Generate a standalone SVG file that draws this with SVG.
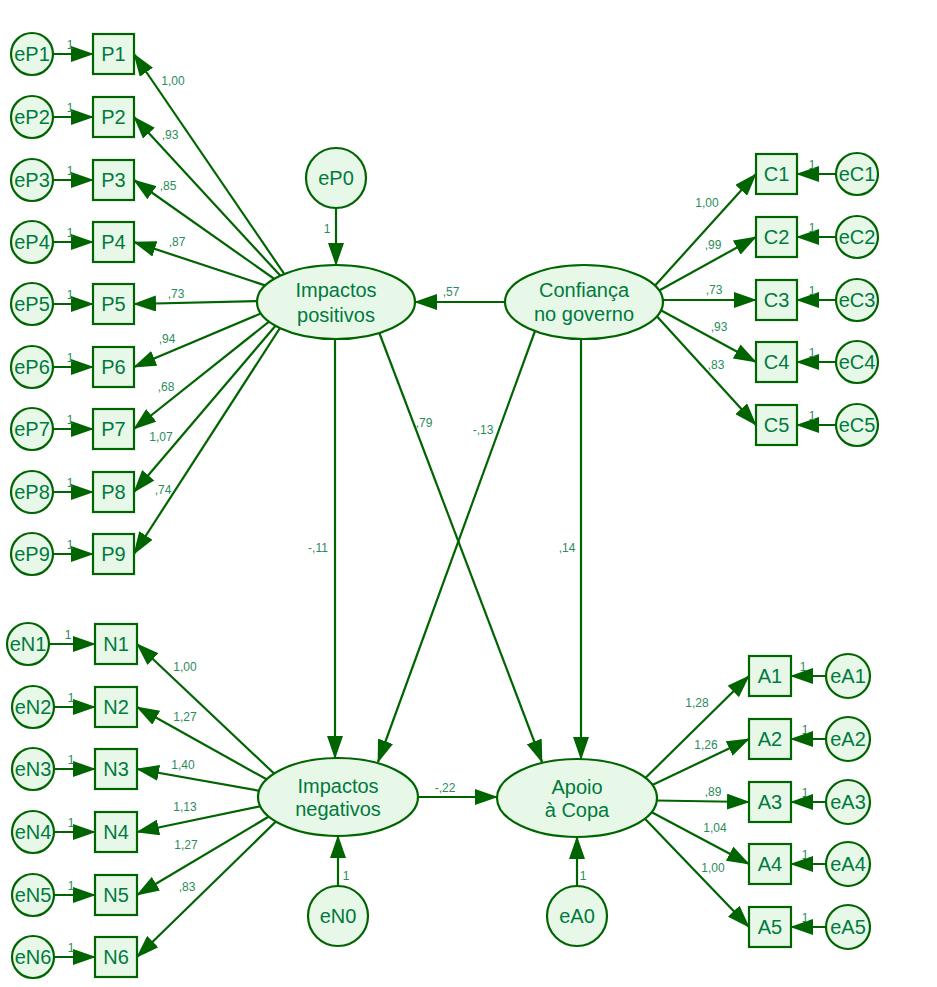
<svg xmlns="http://www.w3.org/2000/svg" width="937" height="987" viewBox="0 0 937 987">
<style>
.c{stroke:#006400;stroke-width:2.2;fill:none;marker-end:url(#ah)}
.n{fill:#e8f8e8;stroke:#006400;stroke-width:2.2}
.t{font-family:"Liberation Sans",Arial,sans-serif;font-size:20px;fill:#007a3d;text-anchor:middle}
.l{font-family:"Liberation Sans",Arial,sans-serif;font-size:12px;fill:#2a8c5a;text-anchor:middle}
</style>
<defs>
<marker id="ah" markerUnits="userSpaceOnUse" markerWidth="23" markerHeight="16" refX="22" refY="8" orient="auto">
<path d="M0,0 L23,8 L0,16 z" fill="#006400"/>
</marker>
</defs>
<rect width="937" height="987" fill="#ffffff"/>
<g id="connectors">
<line class="c" x1="53" y1="54" x2="93" y2="54"/>
<line class="c" x1="53" y1="117" x2="93" y2="117"/>
<line class="c" x1="53" y1="180" x2="93" y2="180"/>
<line class="c" x1="53" y1="242" x2="93" y2="242"/>
<line class="c" x1="53" y1="304" x2="93" y2="304"/>
<line class="c" x1="53" y1="367" x2="93" y2="367"/>
<line class="c" x1="53" y1="429" x2="93" y2="429"/>
<line class="c" x1="53" y1="492" x2="93" y2="492"/>
<line class="c" x1="53" y1="554" x2="93" y2="554"/>
<line class="c" x1="49" y1="644" x2="95" y2="644"/>
<line class="c" x1="54" y1="707" x2="95" y2="707"/>
<line class="c" x1="54" y1="769" x2="95" y2="769"/>
<line class="c" x1="54" y1="832" x2="95" y2="832"/>
<line class="c" x1="54" y1="895" x2="95" y2="895"/>
<line class="c" x1="54" y1="957" x2="95" y2="957"/>
<line class="c" x1="836" y1="174" x2="797" y2="174"/>
<line class="c" x1="836" y1="237" x2="797" y2="237"/>
<line class="c" x1="836" y1="300" x2="797" y2="300"/>
<line class="c" x1="836" y1="362" x2="797" y2="362"/>
<line class="c" x1="836" y1="425" x2="797" y2="425"/>
<line class="c" x1="826" y1="676" x2="791" y2="676"/>
<line class="c" x1="826" y1="739" x2="791" y2="739"/>
<line class="c" x1="826" y1="802" x2="791" y2="802"/>
<line class="c" x1="826" y1="864" x2="791" y2="864"/>
<line class="c" x1="826" y1="927" x2="791" y2="927"/>
<line class="c" x1="300" y1="297" x2="134" y2="54"/>
<line class="c" x1="300" y1="297" x2="134" y2="117"/>
<line class="c" x1="300" y1="297" x2="134" y2="180"/>
<line class="c" x1="300" y1="297" x2="134" y2="242"/>
<line class="c" x1="300" y1="300" x2="134" y2="304"/>
<line class="c" x1="300" y1="297" x2="134" y2="367"/>
<line class="c" x1="300" y1="297" x2="134" y2="429"/>
<line class="c" x1="300" y1="297" x2="134" y2="492"/>
<line class="c" x1="300" y1="297" x2="134" y2="554"/>
<line class="c" x1="300" y1="798" x2="137" y2="644"/>
<line class="c" x1="300" y1="798" x2="137" y2="707"/>
<line class="c" x1="300" y1="798" x2="137" y2="769"/>
<line class="c" x1="300" y1="798" x2="137" y2="832"/>
<line class="c" x1="300" y1="798" x2="137" y2="895"/>
<line class="c" x1="300" y1="798" x2="137" y2="957"/>
<line class="c" x1="642" y1="300" x2="756" y2="174"/>
<line class="c" x1="642" y1="300" x2="756" y2="237"/>
<line class="c" x1="642" y1="300" x2="756" y2="300"/>
<line class="c" x1="642" y1="300" x2="756" y2="362"/>
<line class="c" x1="642" y1="300" x2="756" y2="425"/>
<line class="c" x1="625" y1="798" x2="749" y2="676"/>
<line class="c" x1="625" y1="798" x2="749" y2="739"/>
<line class="c" x1="625" y1="800" x2="749" y2="802"/>
<line class="c" x1="625" y1="798" x2="749" y2="864"/>
<line class="c" x1="625" y1="798" x2="749" y2="927"/>
<line class="c" x1="336" y1="208" x2="336" y2="265"/>
<line class="c" x1="338" y1="886" x2="338" y2="836"/>
<line class="c" x1="577" y1="886" x2="577" y2="837"/>
<line class="c" x1="505" y1="302" x2="415" y2="302"/>
<line class="c" x1="418" y1="797" x2="497" y2="797"/>
<line class="c" x1="335" y1="339" x2="335" y2="758"/>
<line class="c" x1="581" y1="339" x2="581" y2="759"/>
<line class="c" x1="371" y1="311" x2="542" y2="762"/>
<line class="c" x1="535" y1="331" x2="378" y2="762"/>
</g>
<g id="labels">
<text class="l" x="70" y="49">1</text>
<text class="l" x="70" y="112">1</text>
<text class="l" x="70" y="175">1</text>
<text class="l" x="70" y="237">1</text>
<text class="l" x="70" y="299">1</text>
<text class="l" x="70" y="362">1</text>
<text class="l" x="70" y="424">1</text>
<text class="l" x="70" y="487">1</text>
<text class="l" x="70" y="549">1</text>
<text class="l" x="68" y="639">1</text>
<text class="l" x="71" y="702">1</text>
<text class="l" x="71" y="764">1</text>
<text class="l" x="71" y="827">1</text>
<text class="l" x="71" y="890">1</text>
<text class="l" x="71" y="952">1</text>
<text class="l" x="812" y="169">1</text>
<text class="l" x="812" y="232">1</text>
<text class="l" x="812" y="295">1</text>
<text class="l" x="812" y="357">1</text>
<text class="l" x="812" y="420">1</text>
<text class="l" x="803" y="671">1</text>
<text class="l" x="805" y="734">1</text>
<text class="l" x="805" y="797">1</text>
<text class="l" x="805" y="859">1</text>
<text class="l" x="805" y="922">1</text>
<text class="l" x="327" y="233">1</text>
<text class="l" x="346" y="880">1</text>
<text class="l" x="583" y="880">1</text>
<text class="l" x="173" y="85">1,00</text>
<text class="l" x="170" y="139">,93</text>
<text class="l" x="168" y="190">,85</text>
<text class="l" x="177" y="246">,87</text>
<text class="l" x="176" y="298">,73</text>
<text class="l" x="167" y="343">,94</text>
<text class="l" x="166" y="391">,68</text>
<text class="l" x="161" y="441">1,07</text>
<text class="l" x="163" y="494">,74</text>
<text class="l" x="185" y="671">1,00</text>
<text class="l" x="185" y="721">1,27</text>
<text class="l" x="183" y="769">1,40</text>
<text class="l" x="185" y="811">1,13</text>
<text class="l" x="186" y="849">1,27</text>
<text class="l" x="187" y="891">,83</text>
<text class="l" x="707" y="207">1,00</text>
<text class="l" x="713" y="249">,99</text>
<text class="l" x="714" y="294">,73</text>
<text class="l" x="719" y="331">,93</text>
<text class="l" x="716" y="369">,83</text>
<text class="l" x="697" y="707">1,28</text>
<text class="l" x="706" y="749">1,26</text>
<text class="l" x="713" y="796">,89</text>
<text class="l" x="715" y="832">1,04</text>
<text class="l" x="713" y="872">1,00</text>
<text class="l" x="451" y="296">,57</text>
<text class="l" x="445" y="792">-,22</text>
<text class="l" x="318" y="552">-,11</text>
<text class="l" x="424" y="427">,79</text>
<text class="l" x="483" y="434">-,13</text>
<text class="l" x="567" y="552">,14</text>
</g>
<g id="IP"><ellipse class="n" cx="336" cy="302" rx="79" ry="37"/><text class="t" x="336" y="297">Impactos</text><text class="t" x="336" y="322">positivos</text></g>
<g id="CG"><ellipse class="n" cx="584" cy="302" rx="79" ry="37"/><text class="t" x="584" y="297">Confiança</text><text class="t" x="584" y="321">no governo</text></g>
<g id="IN"><ellipse class="n" cx="338" cy="797" rx="80" ry="39"/><text class="t" x="338" y="793">Impactos</text><text class="t" x="338" y="816">negativos</text></g>
<g id="AC"><ellipse class="n" cx="577" cy="798" rx="80" ry="39"/><text class="t" x="577" y="794">Apoio</text><text class="t" x="577" y="817">à Copa</text></g>
<g id="eP0"><circle class="n" cx="336" cy="178" r="30"/><text class="t" x="336" y="185">eP0</text></g>
<g id="eN0"><circle class="n" cx="338" cy="916" r="30"/><text class="t" x="338" y="923">eN0</text></g>
<g id="eA0"><circle class="n" cx="577" cy="916" r="30"/><text class="t" x="577" y="923">eA0</text></g>
<g id="P1"><rect class="n" x="93" y="34" width="41" height="40"/><text class="t" x="113.5" y="61">P1</text></g>
<g id="P2"><rect class="n" x="93" y="97" width="41" height="40"/><text class="t" x="113.5" y="124">P2</text></g>
<g id="P3"><rect class="n" x="93" y="160" width="41" height="40"/><text class="t" x="113.5" y="187">P3</text></g>
<g id="P4"><rect class="n" x="93" y="222" width="41" height="40"/><text class="t" x="113.5" y="249">P4</text></g>
<g id="P5"><rect class="n" x="93" y="284" width="41" height="40"/><text class="t" x="113.5" y="311">P5</text></g>
<g id="P6"><rect class="n" x="93" y="347" width="41" height="40"/><text class="t" x="113.5" y="374">P6</text></g>
<g id="P7"><rect class="n" x="93" y="409" width="41" height="40"/><text class="t" x="113.5" y="436">P7</text></g>
<g id="P8"><rect class="n" x="93" y="472" width="41" height="40"/><text class="t" x="113.5" y="499">P8</text></g>
<g id="P9"><rect class="n" x="93" y="534" width="41" height="40"/><text class="t" x="113.5" y="561">P9</text></g>
<g id="eP1"><circle class="n" cx="32" cy="54" r="21"/><text class="t" x="32" y="61">eP1</text></g>
<g id="eP2"><circle class="n" cx="32" cy="117" r="21"/><text class="t" x="32" y="124">eP2</text></g>
<g id="eP3"><circle class="n" cx="32" cy="180" r="21"/><text class="t" x="32" y="187">eP3</text></g>
<g id="eP4"><circle class="n" cx="32" cy="242" r="21"/><text class="t" x="32" y="249">eP4</text></g>
<g id="eP5"><circle class="n" cx="32" cy="304" r="21"/><text class="t" x="32" y="311">eP5</text></g>
<g id="eP6"><circle class="n" cx="32" cy="367" r="21"/><text class="t" x="32" y="374">eP6</text></g>
<g id="eP7"><circle class="n" cx="32" cy="429" r="21"/><text class="t" x="32" y="436">eP7</text></g>
<g id="eP8"><circle class="n" cx="32" cy="492" r="21"/><text class="t" x="32" y="499">eP8</text></g>
<g id="eP9"><circle class="n" cx="32" cy="554" r="21"/><text class="t" x="32" y="561">eP9</text></g>
<g id="N1"><rect class="n" x="95" y="624" width="42" height="40"/><text class="t" x="116" y="651">N1</text></g>
<g id="N2"><rect class="n" x="95" y="687" width="42" height="40"/><text class="t" x="116" y="714">N2</text></g>
<g id="N3"><rect class="n" x="95" y="749" width="42" height="40"/><text class="t" x="116" y="776">N3</text></g>
<g id="N4"><rect class="n" x="95" y="812" width="42" height="40"/><text class="t" x="116" y="839">N4</text></g>
<g id="N5"><rect class="n" x="95" y="875" width="42" height="40"/><text class="t" x="116" y="902">N5</text></g>
<g id="N6"><rect class="n" x="95" y="937" width="42" height="40"/><text class="t" x="116" y="964">N6</text></g>
<g id="eN1"><circle class="n" cx="28" cy="644" r="21"/><text class="t" x="28" y="651">eN1</text></g>
<g id="eN2"><circle class="n" cx="33" cy="707" r="21"/><text class="t" x="33" y="714">eN2</text></g>
<g id="eN3"><circle class="n" cx="33" cy="769" r="21"/><text class="t" x="33" y="776">eN3</text></g>
<g id="eN4"><circle class="n" cx="33" cy="832" r="21"/><text class="t" x="33" y="839">eN4</text></g>
<g id="eN5"><circle class="n" cx="33" cy="895" r="21"/><text class="t" x="33" y="902">eN5</text></g>
<g id="eN6"><circle class="n" cx="33" cy="957" r="21"/><text class="t" x="33" y="964">eN6</text></g>
<g id="C1"><rect class="n" x="756" y="154" width="41" height="40"/><text class="t" x="776.5" y="181">C1</text></g>
<g id="C2"><rect class="n" x="756" y="217" width="41" height="40"/><text class="t" x="776.5" y="244">C2</text></g>
<g id="C3"><rect class="n" x="756" y="280" width="41" height="40"/><text class="t" x="776.5" y="307">C3</text></g>
<g id="C4"><rect class="n" x="756" y="342" width="41" height="40"/><text class="t" x="776.5" y="369">C4</text></g>
<g id="C5"><rect class="n" x="756" y="405" width="41" height="40"/><text class="t" x="776.5" y="432">C5</text></g>
<g id="eC1"><circle class="n" cx="857" cy="174" r="21"/><text class="t" x="857" y="181">eC1</text></g>
<g id="eC2"><circle class="n" cx="857" cy="237" r="21"/><text class="t" x="857" y="244">eC2</text></g>
<g id="eC3"><circle class="n" cx="857" cy="300" r="21"/><text class="t" x="857" y="307">eC3</text></g>
<g id="eC4"><circle class="n" cx="857" cy="362" r="21"/><text class="t" x="857" y="369">eC4</text></g>
<g id="eC5"><circle class="n" cx="857" cy="425" r="21"/><text class="t" x="857" y="432">eC5</text></g>
<g id="A1"><rect class="n" x="749" y="656" width="42" height="40"/><text class="t" x="770" y="683">A1</text></g>
<g id="A2"><rect class="n" x="749" y="719" width="42" height="40"/><text class="t" x="770" y="746">A2</text></g>
<g id="A3"><rect class="n" x="749" y="782" width="42" height="40"/><text class="t" x="770" y="809">A3</text></g>
<g id="A4"><rect class="n" x="749" y="844" width="42" height="40"/><text class="t" x="770" y="871">A4</text></g>
<g id="A5"><rect class="n" x="749" y="907" width="42" height="40"/><text class="t" x="770" y="934">A5</text></g>
<g id="eA1"><circle class="n" cx="848" cy="676" r="22"/><text class="t" x="848" y="683">eA1</text></g>
<g id="eA2"><circle class="n" cx="848" cy="739" r="22"/><text class="t" x="848" y="746">eA2</text></g>
<g id="eA3"><circle class="n" cx="848" cy="802" r="22"/><text class="t" x="848" y="809">eA3</text></g>
<g id="eA4"><circle class="n" cx="848" cy="864" r="22"/><text class="t" x="848" y="871">eA4</text></g>
<g id="eA5"><circle class="n" cx="848" cy="927" r="22"/><text class="t" x="848" y="934">eA5</text></g>
</svg>
